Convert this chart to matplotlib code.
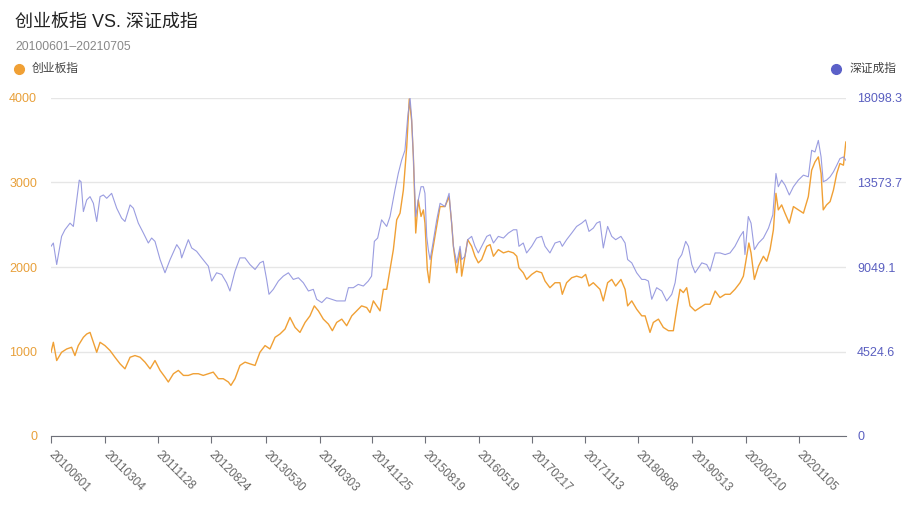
import pandas as pd
import matplotlib
matplotlib.use("Agg")
import matplotlib.pyplot as plt

plt.rcParams["font.family"] = ["Liberation Sans", "Noto Sans CJK SC", "DejaVu Sans"]

start = pd.Timestamp("2010-06-01")
end = pd.Timestamp("2021-07-05")

tick_labels = [
    "20100601", "20110304", "20111128", "20120824", "20130530",
    "20140303", "20141125", "20150819", "20160519", "20170217",
    "20171113", "20180808", "20190513", "20200210", "20201105",
]

# 创业板指: days since 2010-06-01 / index level
cyb_days = [
    0, 12, 29, 54, 80, 105, 122, 139, 165, 182, 199, 216, 233, 250, 275, 301,
    326, 352, 377, 403, 428, 454, 479, 505, 530, 556, 581, 598, 624, 649, 675,
    700, 725, 751, 776, 802, 827, 853, 878, 904, 917, 938, 963,
    989, 1014, 1040, 1065, 1091, 1116, 1142, 1167, 1193, 1218, 1244, 1269,
    1295, 1320, 1342, 1363, 1388, 1414, 1434, 1456, 1482, 1507, 1533, 1558,
    1583, 1609, 1626, 1643, 1660, 1677, 1694, 1711, 1728, 1745, 1762, 1779,
    1796, 1813, 1826, 1838, 1847, 1859, 1872, 1886, 1898, 1906, 1918, 1928,
    1940, 1957, 1983,
    2008, 2029, 2042, 2051, 2068, 2085, 2093, 2110, 2124, 2144, 2161, 2178,
    2195, 2221, 2238, 2255, 2280, 2306, 2331, 2357, 2374, 2385, 2407, 2424,
    2450, 2475, 2501, 2518, 2543, 2569, 2594, 2606, 2628, 2654, 2679, 2705,
    2725, 2742, 2764, 2781, 2798, 2815, 2837, 2858, 2878, 2905, 2926, 2939,
    2960, 2985, 3011,
    3028, 3053, 3070, 3096, 3121, 3147, 3172, 3189, 3206, 3223, 3240, 3257,
    3283, 3308, 3334, 3359, 3385, 3410, 3436, 3461, 3486, 3512, 3529, 3557,
    3568, 3585, 3606, 3631, 3648, 3665, 3682, 3695, 3707, 3724, 3741, 3763,
    3784, 3809, 3835, 3860, 3877, 3894, 3911, 3925, 3936, 3953, 3971, 3988,
    4005, 4021, 4039, 4051,
]
cyb_values = [
    991, 1109, 893, 991, 1030, 1050, 952, 1070, 1168, 1207, 1226, 1109, 991,
    1109, 1070, 1011, 932, 854, 795, 932, 952, 932, 874, 795, 893, 776, 697,
    639, 737, 776, 717, 717, 737, 737, 717, 737, 756, 678, 678, 639, 599, 678,
    835,
    874, 854, 835, 991, 1070, 1030, 1168, 1207, 1266, 1403, 1285, 1226, 1344,
    1422, 1540, 1481, 1383, 1324, 1246, 1344, 1383, 1305, 1422, 1481, 1540,
    1520, 1461, 1599, 1540, 1481, 1736, 1736, 1971, 2206, 2558, 2637, 2911,
    3420, 3989, 3734, 3303, 2402, 2794, 2598, 2676, 2519, 1971, 1814, 2127,
    2363, 2715,
    2715, 2833, 2519, 2245, 1932, 2206, 1892, 2127, 2323, 2245, 2127, 2049,
    2088, 2245, 2265, 2127, 2206, 2167, 2186, 2167, 2127, 1990, 1932, 1853,
    1912, 1951, 1932, 1834, 1755, 1814, 1814, 1677, 1814, 1873, 1892, 1873,
    1912, 1775, 1814, 1775, 1736, 1599, 1814, 1853, 1775, 1853, 1736, 1540,
    1599, 1501, 1422,
    1422, 1226, 1344, 1383, 1285, 1246, 1246, 1501, 1736, 1697, 1755, 1540,
    1481, 1520, 1559, 1559, 1716, 1638, 1677, 1677, 1736, 1814, 1892, 2284,
    2167, 1853, 2010, 2127, 2069, 2206, 2441, 2872, 2676, 2735, 2637, 2519,
    2715, 2676, 2637, 2833, 3146, 3244, 3303, 3107, 2676, 2735, 2774, 2911,
    3107, 3225, 3205, 3479,
]

# 深证成指
szcz_days = [
    0, 12, 29, 54, 71, 97, 114, 131, 144, 153, 165, 182, 199, 216, 233, 250,
    267, 284, 309, 335, 360, 377, 403, 420, 445, 471, 496, 513, 530, 556, 581,
    607, 641, 658, 666, 700, 717, 742, 768, 802, 819, 844, 870, 895, 912, 938,
    963,
    989, 1014, 1040, 1065, 1082, 1099, 1111, 1133, 1159, 1184, 1210, 1235,
    1261, 1286, 1312, 1337, 1354, 1380, 1405, 1431, 1456, 1499, 1516, 1541,
    1566, 1592, 1617, 1634, 1648, 1665, 1685, 1711, 1728, 1753, 1770, 1787,
    1804, 1818, 1830, 1838, 1847, 1859, 1872, 1886, 1898, 1906, 1915, 1923,
    1932, 1944, 1966, 1983,
    2008, 2029, 2042, 2051, 2068, 2085, 2093, 2110, 2124, 2144, 2161, 2178,
    2195, 2221, 2238, 2255, 2280, 2306, 2331, 2357, 2374, 2385, 2407, 2424,
    2450, 2475, 2501, 2518, 2543, 2569, 2594, 2606, 2628, 2654, 2679, 2705,
    2725, 2742, 2764, 2781, 2798, 2815, 2837, 2858, 2878, 2905, 2926, 2939,
    2960, 2985, 3011,
    3028, 3045, 3062, 3087, 3113, 3138, 3164, 3181, 3198, 3215, 3235, 3249,
    3266, 3283, 3317, 3342, 3359, 3385, 3410, 3436, 3461, 3486, 3512, 3529,
    3537, 3554, 3568, 3585, 3606, 3631, 3657, 3679, 3695, 3707, 3724, 3741,
    3763, 3784, 3809, 3835, 3860, 3877, 3894, 3911, 3925, 3936, 3953, 3971,
    3988, 4005, 4021, 4039, 4051,
]
szcz_values = [
    10157, 10334, 9182, 10689, 11043, 11398, 11221, 12639, 13702, 13614,
    12018, 12639, 12816, 12461, 11486, 12816, 12905, 12727, 12993, 12195,
    11664, 11486, 12373, 12195, 11398, 10866, 10334, 10600, 10423, 9448, 8739,
    9448, 10246, 9980, 9537, 10512, 10068, 9891, 9537, 9093, 8296, 8739, 8650,
    8207, 7764, 8828, 9537,
    9537, 9182, 8916, 9271, 9359, 8384, 7587, 7853, 8296, 8562, 8739, 8384,
    8473, 8207, 7764, 7853, 7321, 7144, 7409, 7321, 7232, 7232, 7941, 7941,
    8118, 8030, 8296, 8562, 10423, 10600, 11575, 11221, 11752, 13170, 14057,
    14766, 15298, 17070, 18098.3, 17070, 14943, 11752, 12639, 13348, 13348,
    12993, 10689, 9980, 9448, 10157, 11575, 12461,
    12284, 12993, 11398, 10157, 9271, 10157, 9448, 9625, 10512, 10689, 10157,
    9802, 10157, 10689, 10777, 10334, 10689, 10600, 10866, 11043, 11043,
    10157, 10334, 9802, 10157, 10600, 10689, 10157, 9802, 10334, 10423, 10157,
    10512, 10866, 11221, 11398, 11575, 10955, 11132, 11398, 11486, 10068,
    11221, 10689, 10512, 10689, 10334, 9448, 9271, 8739, 8384,
    8384, 8296, 7321, 7941, 7764, 7232, 7587, 8207, 9448, 9714, 10423, 10157,
    9182, 8739, 9271, 9182, 8828, 9802, 9802, 9714, 9802, 10157, 10689, 10955,
    9714, 11752, 11398, 9980, 10334, 10600, 11132, 11841, 14057, 13348, 13702,
    13436, 12905, 13348, 13702, 13968, 13879, 15298, 15209, 15829, 14943,
    13614, 13702, 13879, 14145, 14500, 14854, 14943, 14766,
]

cyb_dates = start + pd.to_timedelta(cyb_days, unit="D")
szcz_dates = start + pd.to_timedelta(szcz_days, unit="D")
tick_dates = pd.to_datetime(tick_labels, format="%Y%m%d")

orange = "#f0a035"
purple = "#8f92dd"

fig = plt.figure(figsize=(9.12, 5.12), dpi=100)
ax = fig.add_axes([51 / 912, 1 - 436 / 512, 795 / 912, 338 / 512])
ax2 = ax.twinx()

ax.plot(cyb_dates, cyb_values, color=orange, lw=1.0)
ax2.plot(szcz_dates, szcz_values, color=purple, lw=0.8, alpha=0.9)

ax.set_xlim(start, end)
ax.set_ylim(0, 4000)
ax.set_yticks([0, 1000, 2000, 3000, 4000])
ax.set_yticklabels(["0", "1000", "2000", "3000", "4000"])

# right axis: max = data max, split into 4
sz_max = max(szcz_values)
ax2.set_ylim(0, sz_max)
sz_ticks = [sz_max * i / 4 for i in range(5)]
ax2.set_yticks(sz_ticks)
ax2.set_yticklabels(["0"] + [f"{t:.1f}" for t in sz_ticks[1:]])

ax.grid(axis="y", color="#e6e6e6", lw=1)
ax.set_axisbelow(True)
for a in (ax, ax2):
    for s in ("top", "left", "right", "bottom"):
        a.spines[s].set_visible(False)
ax.spines["bottom"].set_visible(True)
ax.spines["bottom"].set_color("#6e7079")

ax.tick_params(axis="y", length=0, pad=10, labelsize=9, labelcolor="#e8a03a")
ax2.tick_params(axis="y", length=0, pad=8, labelsize=9, labelcolor="#5a5fc0")

ax.set_xticks(tick_dates)
ax.set_xticklabels(tick_labels)
ax.tick_params(axis="x", length=5, color="#6e7079", pad=7, labelsize=8.5, labelcolor="#666666")
for lbl in ax.get_xticklabels():
    lbl.set_rotation(-45)
    lbl.set_ha("left")
    lbl.set_va("center")
    lbl.set_rotation_mode("anchor")

fig.text(15 / 912, 1 - 22 / 512, "创业板指 VS. 深证成指", fontsize=13, color="#222222", va="center")
fig.text(15 / 912, 1 - 47 / 512, "20100601–20210705", fontsize=8.7, color="#888888", va="center")

fig.lines.append(plt.Line2D([19 / 912], [1 - 69 / 512], marker="o", ms=7, color=orange,
                            transform=fig.transFigure))
fig.text(32 / 912, 1 - 69 / 512, "创业板指", fontsize=8.5, color="#444444", va="center")
fig.lines.append(plt.Line2D([836 / 912], [1 - 69 / 512], marker="o", ms=7, color="#5b60c8",
                            transform=fig.transFigure))
fig.text(850 / 912, 1 - 69 / 512, "深证成指", fontsize=8.5, color="#444444", va="center")

fig.savefig("out.png", dpi=100, facecolor="white")
